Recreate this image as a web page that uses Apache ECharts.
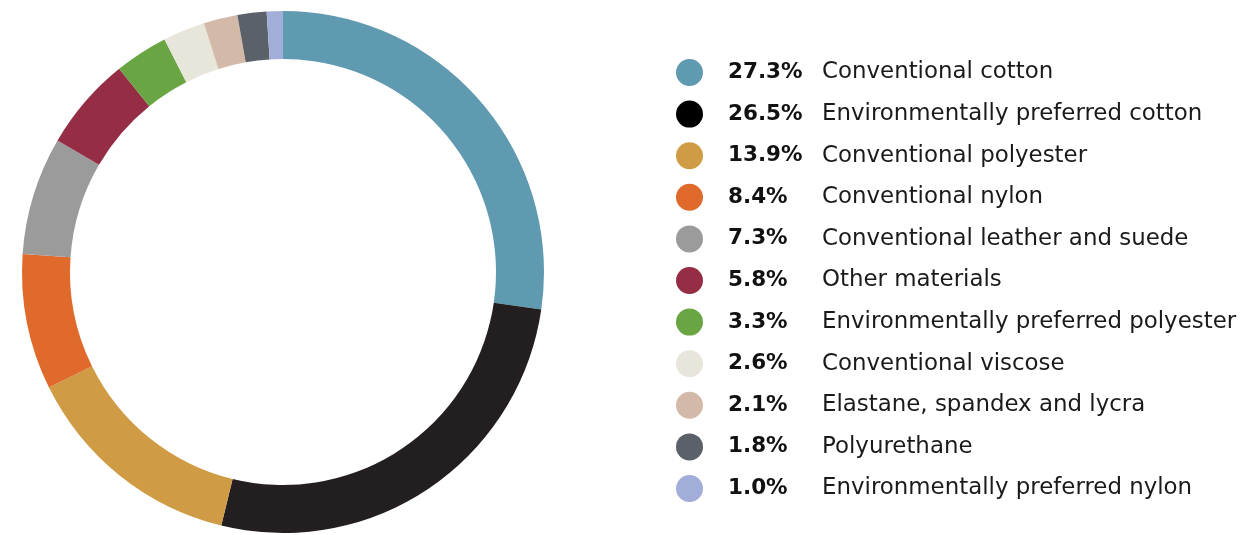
<!DOCTYPE html>
<html>
<head>
<meta charset="utf-8">
<script src="https://cdn.jsdelivr.net/npm/echarts@6/dist/echarts.min.js"></script>
<style>
  html, body { margin: 0; padding: 0; background: #ffffff; }
  #chart { width: 1258px; height: 535px; }
</style>
</head>
<body>
<div id="chart"></div>
<script>
// Material mix by share of total volume (%)
const materials = [
  'Conventional cotton',
  'Environmentally preferred cotton',
  'Conventional polyester',
  'Conventional nylon',
  'Conventional leather and suede',
  'Other materials',
  'Environmentally preferred polyester',
  'Conventional viscose',
  'Elastane, spandex and lycra',
  'Polyurethane',
  'Environmentally preferred nylon'
];
const shares = [27.3, 26.5, 13.9, 8.4, 7.3, 5.8, 3.3, 2.6, 2.1, 1.8, 1.0];
const colors = [
  '#5f9ab1', '#231f20', '#cf9c45', '#e06a2b', '#9c9b9b', '#952d45',
  '#69a543', '#e8e5da', '#d3b9a8', '#5a6169', '#a3add9'
];
// Legend swatches (the dark one is printed as solid black)
const legendColors = colors.map(c => (c === '#231f20' ? '#000000' : c));

const chart = echarts.init(document.getElementById('chart'));

chart.setOption({
  animation: false,
  color: colors,
  legend: {
    orient: 'vertical',
    left: 671,
    top: 54,
    icon: 'circle',
    itemWidth: 27,
    itemHeight: 27,
    itemGap: 14.6,
    selectedMode: false,
    data: materials.map((m, i) => ({ name: m, itemStyle: { color: legendColors[i] } })),
    formatter: function (name) {
      const i = materials.indexOf(name);
      return '{p|' + shares[i].toFixed(1) + '%}{n|' + name + '}';
    },
    textStyle: {
      padding: [0, 0, 0, 20],
      rich: {
        p: {
          fontFamily: 'DejaVu Sans',
          fontWeight: 'bold',
          fontSize: 21.5,
          color: '#111111',
          width: 94,
          lineHeight: 27
        },
        n: {
          fontFamily: 'DejaVu Sans',
          fontSize: 22.9,
          color: '#1a1a1a',
          lineHeight: 27
        }
      }
    }
  },
  series: [{
    type: 'pie',
    center: [283, 272],
    radius: [213, 261],
    startAngle: 90,
    clockwise: true,
    silent: true,
    label: { show: false },
    labelLine: { show: false },
    itemStyle: { borderWidth: 0 },
    data: materials.map((m, i) => ({ name: m, value: shares[i] }))
  }]
});
</script>
</body>
</html>
